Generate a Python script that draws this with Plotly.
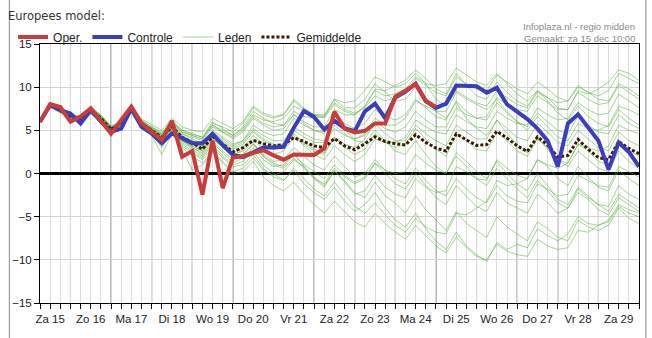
import plotly.graph_objects as go
import pandas as pd

# ---------------- data ----------------
times = pd.date_range("2012-12-15 06:00", "2012-12-30 00:00", freq="6h")  # 60 steps
day_labels = ["Za 15", "Zo 16", "Ma 17", "Di 18", "Wo 19", "Do 20", "Vr 21", "Za 22",
              "Zo 23", "Ma 24", "Di 25", "Wo 26", "Do 27", "Vr 28", "Za 29"]
day_dates = pd.date_range("2012-12-15", "2012-12-29", freq="D")

oper = [6.0, 8.05, 7.7, 6.0, 6.6, 7.55, 6.1, 4.6, 6.2, 7.75, 5.8, 4.8, 3.9, 6.1, 1.95, 2.6,
        -2.45, 3.8, -1.7, 1.85, 2.0, 2.4, 2.7, 2.1, 1.6, 2.2, 2.2, 2.15, 2.9, 7.15,
        5.2, 4.75, 4.95, 5.8, 5.8, 8.9, 9.6, 10.35, 8.4, 7.7]

controle = [6.0, 7.9, 7.35, 6.95, 5.8, 7.35, 6.0, 4.85, 5.2, 7.55, 5.4, 4.65, 3.5, 4.65,
            4.1, 3.5, 3.5, 4.6, 3.3, 2.15, 1.9, 2.4, 3.0, 3.0, 3.1, 5.3, 7.25, 6.55, 5.1,
            6.1, 5.25, 4.9, 7.2, 8.1, 6.4, 8.8, 9.5, 10.4, 8.4, 7.6, 8.1, 10.2, 10.15,
            10.1, 9.35, 9.95, 8.0, 7.1, 6.3, 5.2, 3.8, 0.8, 5.8, 6.85, 5.3, 3.8, 0.45,
            3.6, 2.5, 0.8]

gemiddelde = [6.0, 7.9, 7.3, 6.6, 6.3, 7.3, 6.4, 5.1, 5.8, 7.5, 5.8, 5.0, 4.2, 5.4, 4.2,
              3.6, 2.8, 4.3, 3.4, 2.5, 3.0, 3.85, 3.45, 3.2, 3.35, 4.15, 3.7, 3.2, 3.0,
              4.05, 3.2, 2.75, 3.45, 4.25, 3.7, 3.45, 3.3, 4.5, 3.6, 2.95, 2.6, 4.6, 3.9,
              3.25, 3.35, 4.9, 4.1, 3.2, 2.55, 4.25, 3.3, 1.9, 2.1, 3.95, 2.8, 1.85, 1.6,
              3.7, 2.9, 2.3]

leden = [
    [6.1, 8.0, 7.5, 6.8, 6.5, 7.6, 6.7, 5.4, 6.0, 7.8, 6.2, 5.4, 4.8,
     6.0, 5.0, 4.6, 4.2, 5.6, 5.0, 4.4, 5.2, 6.8, 6.2,
     6.0, 6.4, 7.8, 7.2, 6.8, 6.6, 8.2, 7.4, 7.0, 7.6,
     9.0, 8.4, 8.8, 9.2, 11.0, 10.2, 9.4, 9.0, 11.2, 10.4,
     9.8, 9.6, 11.4, 10.6, 9.8, 9.2, 10.6, 9.8, 8.8, 8.4,
     10.2, 9.4, 9.0, 9.6, 11.6, 11.0, 10.4],
    [5.9, 7.8, 7.2, 6.4, 6.0, 7.0, 6.1, 4.8, 5.5, 7.2, 5.4, 4.6, 3.0,
     4.8, 3.2, 2.4, 1.6, 3.0, 1.8, 0.8, 1.0, 2.2, 0.6,
     -0.4, -0.8, 0.4, -1.2, -2.2, -3.0, -1.6, -3.2, -4.4, -3.6,
     -2.2, -4.0, -5.4, -6.2, -4.6, -6.4, -7.8, -8.8, -6.8, -8.4,
     -9.4, -10.2, -8.0, -8.8, -8.2, -8.6, -6.4, -7.2, -7.8, -7.0,
     -5.0, -5.8, -6.0, -5.6, -3.8, -4.6, -5.0],
    [6.0, 7.9, 7.4, 6.7, 6.4, 7.4, 6.5, 5.2, 5.9, 7.6, 5.9, 5.1, 4.4,
     5.8, 4.6, 4.0, 3.4, 5.0, 4.2, 3.4, 3.8, 5.6, 4.8,
     4.4, 4.6, 6.4, 5.6, 5.0, 4.8, 6.6, 5.8, 5.2, 5.8,
     7.4, 6.6, 6.2, 6.8, 8.6, 7.6, 6.6, 6.2, 8.4, 7.2,
     6.4, 6.2, 8.2, 7.0, 6.0, 5.4, 7.0, 6.0, 5.0, 4.6,
     6.6, 5.6, 4.8, 4.6, 6.8, 5.8, 5.2],
    [6.0, 7.8, 7.2, 6.5, 6.1, 7.1, 6.2, 4.9, 5.6, 7.3, 5.6, 4.8, 3.9,
     5.2, 3.8, 3.0, 2.2, 3.8, 2.6, 1.6, 2.2, 3.4, 2.0,
     1.2, 0.8, 2.2, 1.0, 0.2, -0.6, 1.0, -0.2, -1.0, -0.4,
     1.2, 0.0, -1.2, -1.8, 0.0, -1.4, -2.8, -3.6, -1.4, -2.6,
     -3.8, -4.4, -2.2, -3.4, -4.0, -4.6, -2.4, -3.4, -4.6, -4.0,
     -1.8, -2.8, -3.6, -3.8, -1.4, -2.4, -3.0],
    [6.1, 8.1, 7.6, 6.9, 6.6, 7.7, 6.8, 5.5, 6.1, 7.9, 6.3, 5.6, 5.0,
     6.4, 5.4, 5.0, 4.8, 6.4, 5.8, 5.2, 6.0, 7.8, 7.0,
     6.6, 6.8, 8.6, 7.6, 6.8, 6.4, 8.0, 7.2, 6.8, 7.8,
     9.8, 9.6, 10.2, 10.8, 12.0, 11.0, 9.8, 9.2, 11.6, 10.2,
     9.0, 8.6, 10.6, 9.4, 8.4, 7.8, 9.6, 8.8, 7.6, 7.4,
     9.6, 9.2, 9.8, 10.6, 12.0, 11.6, 10.8],
    [5.9, 7.7, 7.1, 6.3, 6.0, 6.9, 6.0, 4.7, 5.4, 7.1, 5.3, 4.4, 3.4,
     4.6, 3.0, 2.0, 1.2, 2.6, 1.4, 0.2, 0.6, 1.8, 0.4,
     -0.2, 0.2, 1.6, 0.8, -0.4, -1.4, 0.2, -0.8, -2.2, -2.8,
     -1.0, -2.6, -3.4, -4.6, -2.6, -4.2, -5.4, -6.6, -4.4, -5.8,
     -6.6, -7.4, -5.0, -6.2, -7.0, -7.8, -5.6, -6.4, -7.4, -7.8,
     -5.4, -6.2, -6.6, -6.0, -4.0, -5.2, -5.8],
    [6.0, 7.9, 7.3, 6.6, 6.3, 7.3, 6.4, 5.1, 5.8, 7.5, 5.8, 5.0, 4.1,
     5.4, 4.0, 3.4, 2.8, 4.4, 3.2, 2.4, 3.0, 4.4, 3.4,
     2.8, 3.0, 4.6, 3.6, 2.8, 2.4, 4.2, 3.0, 2.2, 2.8,
     4.6, 3.6, 3.0, 3.4, 5.2, 4.0, 2.8, 2.0, 4.6, 3.8,
     2.8, 2.6, 4.8, 3.8, 2.6, 2.0, 4.0, 3.0, 1.6, 1.2,
     3.4, 2.6, 1.4, 1.0, 3.4, 2.6, 2.0],
    [6.0, 8.0, 7.4, 6.7, 6.4, 7.5, 6.6, 5.3, 6.0, 7.7, 6.0, 5.2, 4.5,
     6.0, 4.8, 4.4, 4.0, 5.8, 5.4, 4.8, 5.8, 7.6, 6.8,
     6.4, 6.8, 8.4, 7.4, 6.8, 6.8, 8.6, 7.6, 7.6, 8.6,
     10.4, 9.4, 8.4, 8.6, 10.0, 8.4, 7.2, 6.4, 8.2, 6.4,
     5.2, 4.4, 6.2, 4.6, 3.4, 2.4, 4.2, 2.8, 1.6, 0.8,
     2.6, 1.6, 0.6, 0.2, 2.6, 1.4, 0.6],
    [5.9, 7.8, 7.1, 6.4, 6.1, 7.0, 6.1, 4.8, 5.5, 7.2, 5.5, 4.7, 3.7,
     5.0, 3.4, 2.6, 1.8, 3.4, 2.0, 1.0, 1.4, 2.6, 1.0,
     0.0, -0.8, 0.6, -0.6, -1.8, -2.6, -1.0, -2.4, -3.8, -4.6,
     -3.4, -4.8, -6.0, -6.8, -5.2, -6.2, -6.8, -7.0, -4.6, -4.8,
     -4.0, -3.2, -0.8, -1.4, -1.2, -0.6, 1.6, 1.0, 0.6, 1.2,
     3.4, 3.0, 2.6, 3.2, 5.6, 5.0, 4.6],
    [6.0, 7.9, 7.3, 6.6, 6.2, 7.2, 6.3, 5.0, 5.7, 7.4, 5.7, 4.9, 4.0,
     5.2, 3.8, 3.2, 2.6, 4.2, 3.0, 2.0, 2.8, 4.0, 2.8,
     2.2, 2.6, 4.2, 3.4, 2.6, 2.2, 4.2, 3.4, 3.0, 4.0,
     6.0, 5.2, 4.8, 5.4, 7.2, 6.2, 5.4, 5.4, 7.6, 6.8,
     6.4, 6.6, 8.8, 8.0, 7.4, 7.2, 9.0, 8.2, 7.4, 7.4,
     9.4, 8.6, 8.0, 8.2, 10.2, 9.4, 8.6],
    [6.0, 7.9, 7.3, 6.6, 6.3, 7.3, 6.4, 5.1, 5.8, 7.5, 5.8, 5.0, 4.2,
     5.6, 4.4, 3.8, 3.2, 4.8, 4.0, 3.2, 3.8, 5.2, 4.4,
     3.8, 3.8, 5.4, 4.6, 4.0, 3.8, 5.6, 4.6, 3.8, 3.6,
     5.0, 3.8, 2.6, 2.2, 3.8, 2.2, 0.8, 0.0, 2.0, 0.8,
     -0.6, -1.4, 0.6, -0.6, -1.8, -2.8, -0.8, -2.0, -3.4, -4.0,
     -2.2, -3.0, -4.2, -4.8, -2.8, -3.6, -4.4],
    [6.1, 8.0, 7.5, 6.8, 6.5, 7.5, 6.6, 5.3, 6.0, 7.7, 6.0, 5.2, 4.4,
     5.8, 4.6, 4.2, 3.8, 5.4, 4.8, 4.2, 5.0, 6.6, 5.8,
     5.4, 5.6, 7.2, 6.6, 6.4, 6.6, 8.6, 8.2, 8.4, 9.6,
     11.2, 10.6, 10.0, 10.4, 11.6, 10.4, 8.6, 7.8, 9.6, 8.8,
     8.2, 7.8, 9.6, 8.8, 8.0, 7.6, 9.4, 8.8, 8.2, 8.4,
     10.0, 9.4, 8.6, 8.4, 10.4, 9.8, 9.0],
    [5.9, 7.8, 7.2, 6.5, 6.2, 7.1, 6.2, 4.9, 5.6, 7.3, 5.6, 4.8, 3.8,
     5.0, 3.6, 2.8, 2.0, 3.6, 2.4, 1.2, 1.8, 3.0, 1.6,
     0.8, 1.0, 2.4, 0.8, -0.6, -1.6, 0.4, -1.0, -2.4, -2.0,
     -0.2, -1.6, -2.4, -2.8, -0.6, -1.6, -2.2, -2.0, 0.8, 0.2,
     -0.6, -0.8, 1.6, 0.6, -0.2, -0.6, 1.6, 0.8, -0.6, -1.4,
     0.8, -0.4, -1.6, -2.0, 0.4, -0.6, -1.4],
    [6.0, 7.9, 7.3, 6.7, 6.3, 7.4, 6.5, 5.2, 5.9, 7.6, 5.9, 5.1, 4.3,
     5.6, 4.2, 3.6, 3.0, 4.6, 3.6, 2.8, 3.4, 4.8, 3.8,
     3.2, 3.4, 5.0, 4.2, 3.6, 3.6, 5.2, 4.4, 4.0, 4.4,
     5.8, 4.6, 3.8, 3.8, 5.6, 4.6, 3.8, 3.2, 5.6, 4.8,
     4.0, 4.0, 6.2, 5.2, 4.2, 3.8, 5.8, 4.8, 3.6, 3.2,
     5.0, 4.0, 3.0, 2.6, 4.8, 3.8, 3.2],
    [5.9, 7.7, 7.0, 6.3, 5.9, 6.9, 6.0, 4.7, 5.4, 7.0, 5.2, 4.4, 2.2,
     4.6, 2.8, 0.4, 1.0, 2.4, 1.2, 0.0, 0.2, 1.4, -0.4,
     -1.4, -2.0, -1.0, -2.4, -3.6, -4.6, -3.2, -4.4, -5.6, -6.2,
     -4.6, -5.8, -6.8, -7.6, -6.0, -7.2, -8.4, -9.2, -7.4, -8.6,
     -9.6, -10.0, -8.2, -9.0, -9.4, -9.6, -7.6, -8.4, -8.8, -8.6,
     -6.6, -6.8, -6.0, -5.4, -3.6, -4.2, -4.6],
    [6.0, 8.0, 7.4, 6.7, 6.4, 7.5, 6.6, 5.3, 6.0, 7.7, 6.1, 5.3, 4.6,
     6.2, 5.0, 4.6, 4.2, 6.0, 5.2, 4.4, 5.4, 7.2, 6.4,
     5.8, 5.6, 6.8, 5.8, 5.0, 4.6, 6.2, 5.0, 4.0, 4.6,
     6.4, 5.6, 5.6, 6.4, 8.4, 7.8, 7.2, 7.2, 9.4, 8.6,
     8.0, 7.4, 8.6, 7.2, 6.0, 5.0, 6.6, 5.4, 4.2, 3.8,
     5.8, 5.2, 5.0, 5.6, 7.8, 7.4, 6.8],
    [6.0, 7.8, 7.2, 6.5, 6.2, 7.2, 6.3, 5.0, 5.7, 7.3, 5.6, 4.8, 3.9,
     5.2, 3.8, 3.0, 2.4, 4.0, 3.0, 2.0, 2.2, 3.4, 2.2,
     1.4, 1.6, 3.0, 2.0, 1.0, 0.4, 2.0, 0.8, -0.4, 0.0,
     1.6, 0.4, -0.6, -1.2, 0.6, -0.8, -2.0, -2.6, -0.6, -1.8,
     -2.8, -3.4, -1.4, -2.6, -3.2, -3.4, -1.2, -1.8, -2.6, -2.4,
     -0.2, -0.8, -1.4, -1.6, 0.8, 0.2, -0.4],
    [6.1, 8.0, 7.5, 6.8, 6.5, 7.6, 6.7, 5.4, 6.1, 7.8, 6.1, 5.3, 4.6,
     6.0, 4.8, 4.4, 4.0, 5.6, 4.8, 4.0, 4.8, 6.4, 5.6,
     5.0, 5.2, 6.8, 6.0, 5.4, 5.4, 7.4, 6.8, 6.8, 7.8,
     9.6, 9.0, 9.2, 9.8, 11.2, 10.4, 10.2, 10.4, 12.2, 11.4,
     10.6, 10.2, 11.6, 10.4, 9.2, 8.4, 9.6, 8.4, 7.0, 6.2,
     7.8, 6.6, 5.8, 5.4, 7.4, 6.4, 5.6],
    [6.0, 7.9, 7.2, 6.5, 6.2, 7.2, 6.3, 5.0, 5.7, 7.4, 5.6, 4.9, 4.0,
     5.4, 4.0, 3.2, 2.6, 4.2, 3.2, 2.2, 2.6, 3.6, 2.0,
     1.0, 0.6, 1.8, 0.6, -0.6, -1.2, 0.6, -0.4, -1.2, -0.6,
     1.2, 0.4, 0.0, 0.2, 2.2, 1.2, 0.4, 0.0, 2.4, 1.4,
     0.2, -0.6, 1.4, 0.0, -1.2, -2.0, 0.0, -1.4, -3.0, -3.6,
     -1.6, -2.6, -3.6, -4.4, -2.4, -3.2, -4.0],
    [6.0, 7.9, 7.3, 6.6, 6.3, 7.3, 6.4, 5.1, 5.8, 7.5, 5.8, 5.0, 4.2,
     5.6, 4.2, 3.6, 3.2, 4.8, 3.8, 3.0, 3.6, 5.0, 4.0,
     3.4, 3.2, 4.4, 3.2, 2.2, 1.6, 3.2, 2.2, 1.4, 2.2,
     4.0, 3.6, 3.6, 4.2, 6.2, 5.4, 4.8, 4.6, 6.8, 6.0,
     5.4, 5.2, 7.2, 6.4, 5.8, 5.6, 7.6, 6.8, 6.2, 6.4,
     8.2, 7.4, 6.8, 7.0, 9.2, 8.4, 7.6],
]

y_ticks = [-15, -10, -5, 0, 5, 10, 15]

# ---------------- figure ----------------
W, H = 652, 338
ML, MR, MT, MB = 34, 12, 44, 35
PW, PH = W - ML - MR, H - MT - MB

fig = go.Figure()

for k, member in enumerate(leden):
    fig.add_trace(go.Scatter(
        x=times, y=member, mode="lines", name="Leden", legendgroup="leden",
        showlegend=(k == 0), legendrank=3,
        line=dict(color="rgba(90,178,60,0.55)", width=1),
        hoverinfo="skip"))

fig.add_trace(go.Scatter(
    x=times, y=gemiddelde, mode="lines", name="Gemiddelde", legendrank=4,
    line=dict(color="#3a1c02", width=3, dash="3px,2px")))

fig.add_trace(go.Scatter(
    x=times, y=controle, mode="lines", name="Controle", legendrank=2,
    line=dict(color="#3b3dbd", width=4)))

fig.add_trace(go.Scatter(
    x=times[:len(oper)], y=oper, mode="lines", name="Oper.", legendrank=1,
    line=dict(color="#c93c3a", width=4)))

noon_ticks = [d + pd.Timedelta(hours=12) for d in day_dates]

shapes = []
for d in day_dates[1:]:
    shapes.append(dict(type="line", xref="x", yref="paper", x0=d, x1=d, y0=0, y1=1,
                       line=dict(color="#5a5a5a", width=1), layer="below"))
# outer frame lines of the picture
for px in (3, 647):
    xp = (px - ML) / PW
    shapes.append(dict(type="line", xref="paper", yref="paper", x0=xp, x1=xp,
                       y0=-MB / PH, y1=1 + MT / PH, line=dict(color="#888888", width=1)))

fig.update_layout(
    width=W, height=H,
    margin=dict(l=ML, r=MR, t=MT, b=MB),
    paper_bgcolor="white", plot_bgcolor="white",
    font=dict(family="Liberation Sans, Arial, sans-serif", size=11, color="#222222"),
    showlegend=True,
    legend=dict(orientation="h", x=-0.045, xanchor="left", y=1 + 7 / PH, yanchor="middle",
                font=dict(size=12, color="#222222"), bgcolor="rgba(0,0,0,0)",
                itemwidth=30, tracegroupgap=0),
    shapes=shapes,
    title=dict(text="Europees model:", x=8 / W, xanchor="left", y=1 - 16 / H,
               yanchor="middle", xref="container", yref="container",
               font=dict(family="DejaVu Sans, Verdana, sans-serif", size=11.5, color="#333333")),
    xaxis=dict(
        range=[times[0], times[-1]], tickmode="array", tickvals=noon_ticks,
        ticktext=day_labels, ticks="outside", ticklen=5, tickcolor="black",
        showgrid=True, gridcolor="#dcdcdc", gridwidth=1,
        showline=True, linecolor="black", linewidth=1, mirror=True,
        minor=dict(dtick=6 * 3600 * 1000, tick0="2012-12-15 00:00", ticks="outside",
                   ticklen=5, tickcolor="black", showgrid=True, gridcolor="#dcdcdc"),
        tickfont=dict(size=11.5, color="#222222"), zeroline=False, fixedrange=True),
    yaxis=dict(
        range=[-15, 15], tickmode="array", tickvals=y_ticks, ticks="outside", ticklen=5,
        tickcolor="black", showgrid=True, gridcolor="#d4d4d4", gridwidth=1,
        showline=True, linecolor="black", linewidth=1, mirror=True,
        zeroline=True, zerolinecolor="black", zerolinewidth=2.5,
        tickfont=dict(size=11.5, color="#222222"), fixedrange=True),
    annotations=[
        dict(text="Infoplaza.nl - regio midden", xref="paper", yref="paper",
             x=(638 - ML) / PW, y=1 + (MT - 27) / PH, xanchor="right", yanchor="middle",
             showarrow=False, font=dict(size=9.5, color="#8a8a8a")),
        dict(text="Gemaakt: za 15 dec 10:00", xref="paper", yref="paper",
             x=(638 - ML) / PW, y=1 + (MT - 38) / PH, xanchor="right", yanchor="middle",
             showarrow=False, font=dict(size=9.5, color="#8a8a8a")),
    ],
)

fig.write_html("out.html")
